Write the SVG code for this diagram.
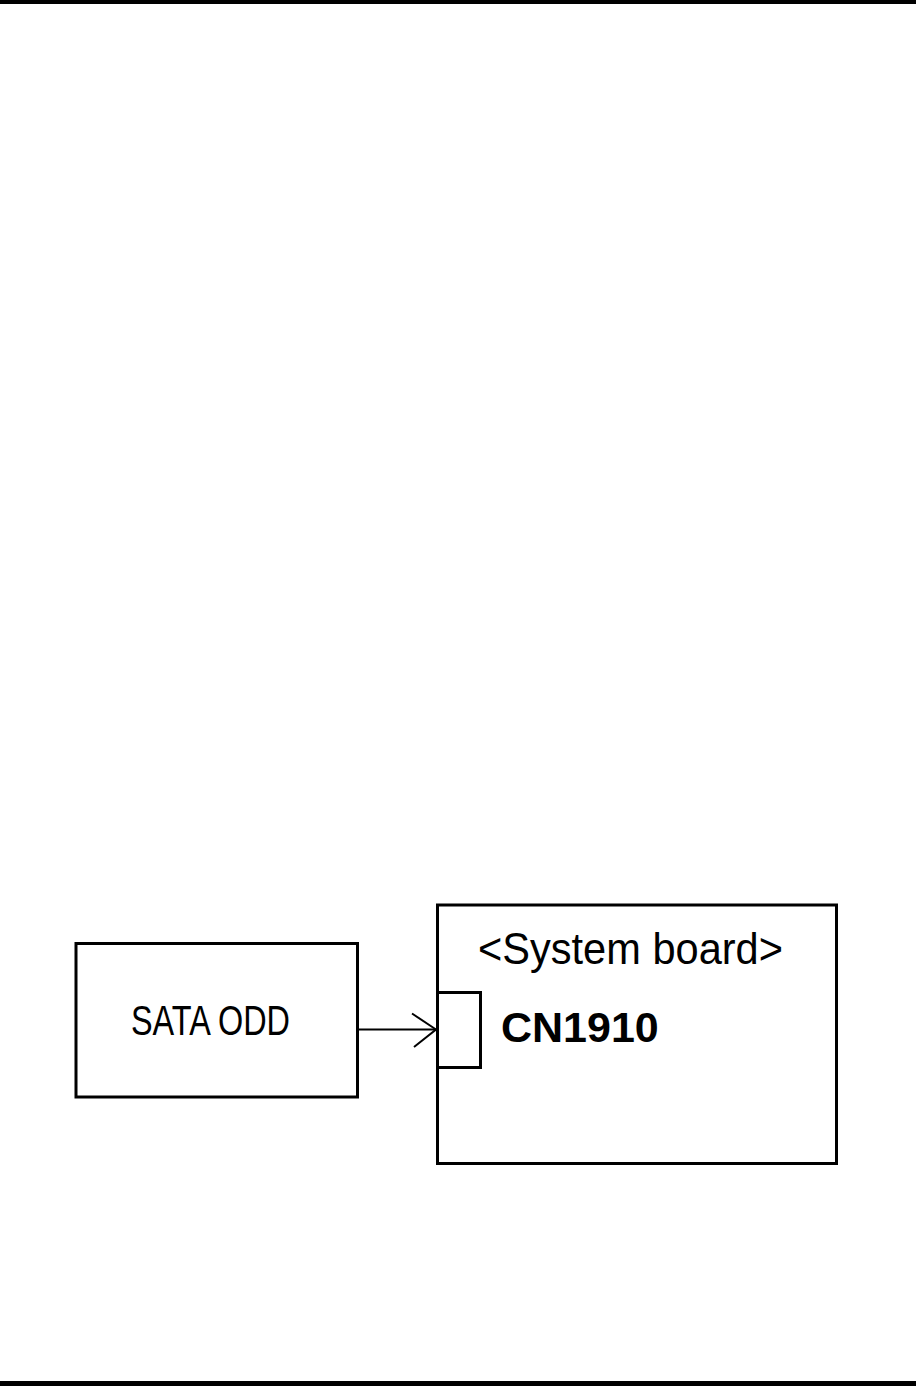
<svg xmlns="http://www.w3.org/2000/svg" width="916" height="1386" viewBox="0 0 916 1386">
<style>
.box{fill:none;stroke:#000;stroke-width:3}
.conn{fill:none;stroke:#000;stroke-width:2}
.lbl{font-family:"Liberation Sans",Arial,sans-serif;fill:#000}
</style>
<rect width="916" height="1386" fill="#fff"/>
<rect x="0" y="0" width="916" height="4" fill="#000"/>
<rect x="0" y="1381" width="916" height="5" fill="#000"/>
<g id="sata-odd">
<rect class="box" x="76" y="943.5" width="281.5" height="153.5"/>
<text class="lbl" x="131" y="1035" font-size="42" textLength="159" lengthAdjust="spacingAndGlyphs">SATA ODD</text>
</g>
<g id="system-board">
<rect class="box" x="437.5" y="905" width="399" height="258.5"/>
<text class="lbl" x="478" y="964" font-size="44" textLength="305" lengthAdjust="spacingAndGlyphs">&lt;System board&gt;</text>
</g>
<g id="cn1910">
<rect class="box" x="437.5" y="992.5" width="43" height="75"/>
<text class="lbl" x="501" y="1041.5" font-size="43" font-weight="bold">CN1910</text>
</g>
<g id="connectors">
<line class="conn" x1="359" y1="1029.5" x2="436" y2="1029.5"/>
<polyline class="conn" points="412,1013.5 436,1029.5 414,1047"/>
</g>
</svg>
